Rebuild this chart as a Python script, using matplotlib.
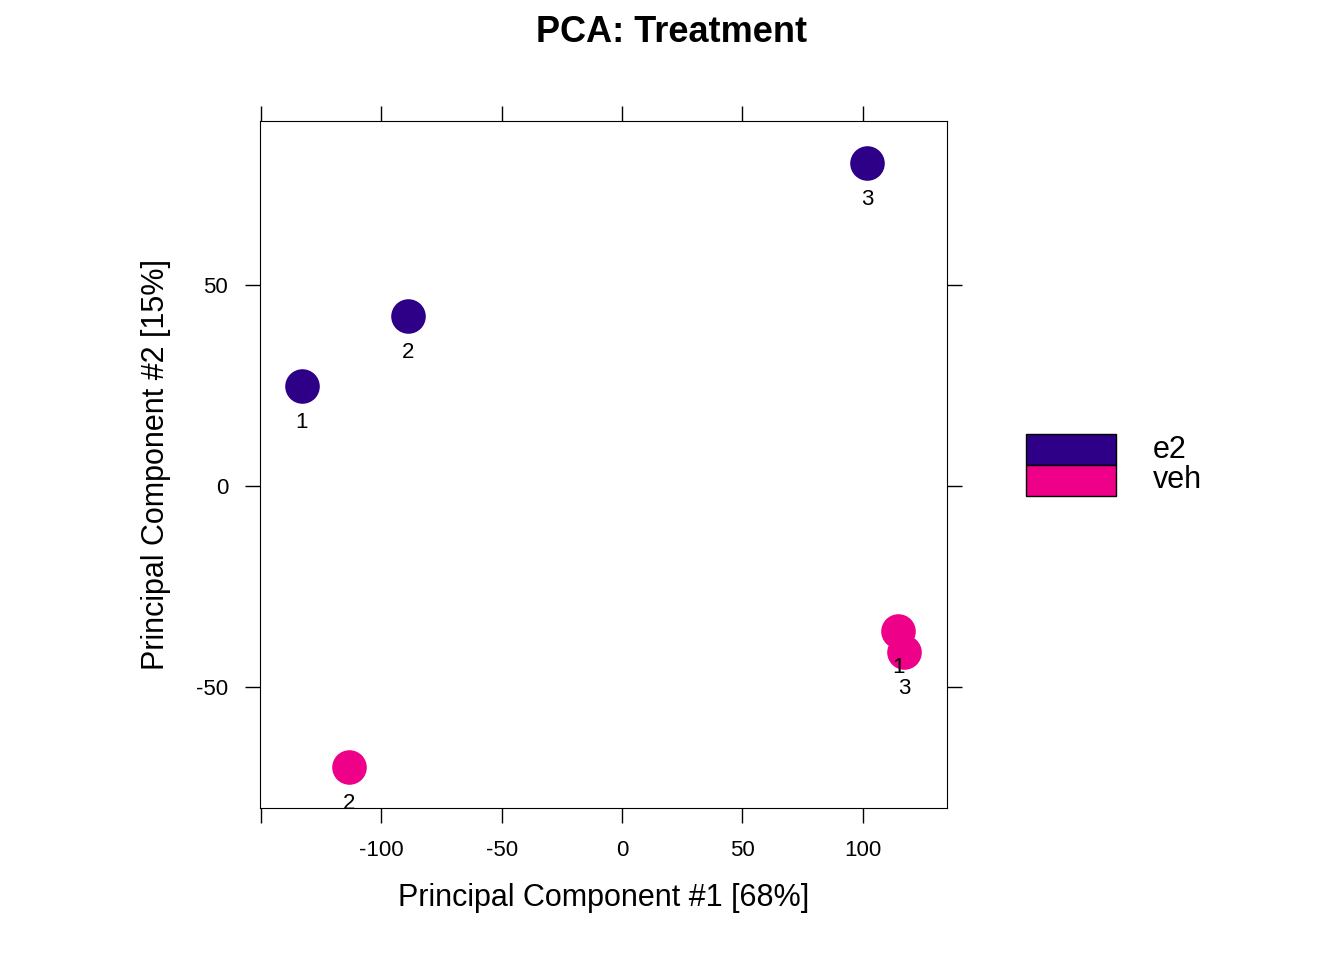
import matplotlib
matplotlib.use("Agg")
import matplotlib.pyplot as plt
from matplotlib.patches import Rectangle

groups = ["e2", "veh"]
colors = {"e2": "#2e0088", "veh": "#ee0088"}
pc1 = {"e2": [-133.1, -89.0, 101.9], "veh": [-113.5, 114.8, 117.3]}
pc2 = {"e2": [24.9, 42.3, 80.3], "veh": [-69.9, -36.1, -41.3]}
labels = {"e2": ["1", "2", "3"], "veh": ["2", "1", "3"]}

plt.rcParams["font.family"] = ["Liberation Sans", "DejaVu Sans"]
fig = plt.figure(figsize=(13.44, 9.6), dpi=100)
ax = fig.add_axes([260 / 1344, 152 / 960, 687 / 1344, 687 / 960])

for g in groups:
    ax.scatter(pc1[g], pc2[g], s=620, color=colors[g], zorder=3, linewidths=0)
    for x, y, t in zip(pc1[g], pc2[g], labels[g]):
        ax.annotate(t, (x, y), xytext=(0, -26), textcoords="offset points",
                    ha="center", va="center", fontsize=16)

ax.set_xlim(-150.5, 135.1)
ax.set_ylim(-80.1, 90.8)
ax.set_xticks([-150, -100, -50, 0, 50, 100])
ax.set_xticklabels(["", "-100", "-50", "0", "50", "100"])
ax.set_yticks([-50, 0, 50])
ax.set_yticklabels(["-50", "0", "50"])
ax.tick_params(direction="out", length=11, width=1, labelsize=16,
               top=True, right=True, pad=12)
ax.set_xlabel("Principal Component #1 [68%]", fontsize=22, labelpad=16)
ax.set_ylabel("Principal Component #2 [15%]", fontsize=22, labelpad=18)
fig.text(0.5, 1 - 32 / 960, "PCA: Treatment", ha="center", va="center",
         fontsize=26, fontweight="bold")

for i, g in enumerate(groups):
    y0 = 1 - (465 + 31 * i) / 960
    fig.patches.append(Rectangle((1026 / 1344, y0), 90 / 1344, 31 / 960,
                                 transform=fig.transFigure, facecolor=colors[g],
                                 edgecolor="black", lw=1))
    fig.text(1153 / 1344, y0 + 15.5 / 960, g, fontsize=22, va="center")

fig.savefig("out.png", dpi=100)
